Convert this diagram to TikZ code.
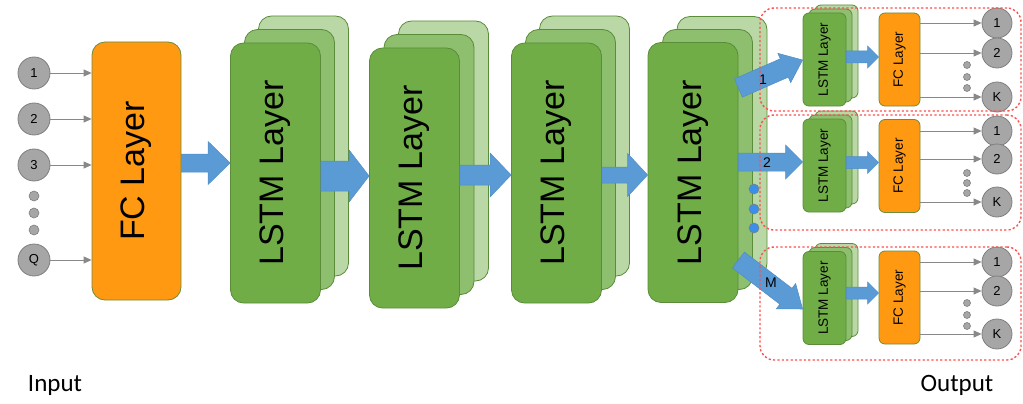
\documentclass[tikz,border=0pt]{standalone}
\usepackage{fontspec}
\setmainfont{Liberation Sans}
\newfontfamily\calibri{Carlito}
\usetikzlibrary{calc,arrows.meta}
\definecolor{gfront}{HTML}{70AD47}
\definecolor{gmid}{HTML}{8DBF6E}
\definecolor{gback}{HTML}{B9D8A5}
\definecolor{gborder}{HTML}{5A8C3A}
\definecolor{fcorange}{HTML}{FF9912}
\definecolor{fcborder}{HTML}{6E8C3A}
\definecolor{arrowblue}{HTML}{5B9BD5}
\definecolor{arrowblueb}{HTML}{4F8CC6}
\definecolor{circgray}{HTML}{A6A6A6}
\definecolor{circborder}{HTML}{7F7F7F}
\definecolor{linegray}{HTML}{888888}
\definecolor{boxred}{HTML}{FF4F4F}
\definecolor{dotblue}{HTML}{3A8FEA}
\tikzset{
  layerbox/.style={draw=gborder, line width=0.8pt, inner sep=0pt},
  frontbox/.style={layerbox, fill=gfront},
  midbox/.style={layerbox, fill=gmid},
  backbox/.style={layerbox, fill=gback},
  fcbox/.style={draw=fcborder, fill=fcorange, line width=0.8pt, inner sep=0pt},
  incirc/.style={circle, draw=circborder, fill=circgray, line width=0.8pt, minimum size=32pt, inner sep=0pt, font=\fontsize{13}{13}\selectfont},
  outcirc/.style={circle, draw=circborder, fill=circgray, line width=0.8pt, minimum size=30pt, inner sep=0pt, font=\fontsize{13}{13}\selectfont},
  smalldot/.style={circle, draw=circborder, fill=circgray, line width=0.6pt, minimum size=#1, inner sep=0pt},
  bluedot/.style={circle, draw=circborder, fill=dotblue, line width=0.6pt, minimum size=10pt, inner sep=0pt},
  grayarrow/.style={draw=linegray, line width=0.9pt, -{Triangle[length=8pt,width=7pt]}},
  redbox/.style={draw=boxred, line width=1.4pt, dash pattern=on 2.2pt off 2.2pt, rounded corners=14pt, minimum width=261pt, minimum height=#1, inner sep=0pt},
  arrlabel/.style={font=\fontsize{14}{14}\selectfont, inner sep=0pt},
  iolabel/.style={font=\calibri\fontsize{25}{25}\selectfont, inner sep=0pt},
}
% stack: name, cx, cy, w, h, dx, dy, radius, text
\newcommand\lstmstack[9]{%
  \node[backbox, rounded corners=#8, minimum width=#4, minimum height=#5] (#1b) at (#2+2*#6, #3-2*#7) {};
  \node[midbox, rounded corners=#8, minimum width=#4, minimum height=#5] (#1m) at (#2+#6, #3-#7) {};
  \node[frontbox, rounded corners=#8, minimum width=#4, minimum height=#5] (#1) at (#2, #3) {#9};
}
% block arrow: from, to, shaft half, head half, head length
\newcommand\blockarr[5]{%
  \coordinate (bah) at ($(#2)!#5!(#1)$);
  \filldraw[fill=arrowblue, draw=arrowblueb, line width=0.5pt, line join=miter]
    ($(#1)!#3!90:(#2)$) -- ($(bah)!#3!90:(#2)$) -- ($(bah)!#4!90:(#2)$) -- (#2)
    -- ($(bah)!#4!-90:(#2)$) -- ($(bah)!#3!-90:(#2)$) -- ($(#1)!#3!-90:(#2)$) -- cycle;
}
\newcommand\bigtxt[1]{\rotatebox{90}{\fontsize{34}{34}\selectfont #1}}
\newcommand\smalltxt[1]{\rotatebox{90}{\fontsize{13.5}{13.5}\selectfont #1}}
\begin{document}
\begin{tikzpicture}[x=1pt,y=-1pt]
\useasboundingbox (0,0) rectangle (1023,404);
% inputs
\node[incirc] (i1) at (34,73) {1};
\node[incirc] (i2) at (34,119) {2};
\node[incirc] (i3) at (34,165) {3};
\node[smalldot=10pt] (id1) at (34,196) {};
\node[smalldot=10pt] (id2) at (34,213) {};
\node[smalldot=10pt] (id3) at (34,230) {};
\node[incirc] (iq) at (34,260) {Q};
% FC layer
\node[fcbox, rounded corners=13pt, minimum width=89pt, minimum height=258pt] (fc) at (136.5,171) {\bigtxt{FC Layer}};
\foreach \c in {i1,i2,i3,iq} \draw[grayarrow] (\c) -- (fc.west |- \c);
% LSTM stacks
\lstmstack{l1}{275.5}{173}{90pt}{260pt}{14}{13.5}{13pt}{\bigtxt{LSTM Layer}}
\lstmstack{l2}{414.5}{178}{90pt}{260pt}{14.5}{13.5}{13pt}{\bigtxt{LSTM Layer}}
\lstmstack{l3}{556.5}{173}{90pt}{260pt}{14}{13.5}{13pt}{\bigtxt{LSTM Layer}}
\lstmstack{l4}{693}{172.5}{90pt}{260pt}{14.5}{13}{13pt}{\bigtxt{LSTM Layer}}
% big arrows
\coordinate (a0s) at ($(fc.east)+(0,-8)$);
\coordinate (a0e) at ($(l1.west)+(0,-10)$);
\blockarr{a0s}{a0e}{9pt}{21.5pt}{22pt}
\coordinate (a1s) at ($(l1.east)+(0,3)$);
\coordinate (a1e) at ($(l2.west)+(0,-2)$);
\blockarr{a1s}{a1e}{15pt}{26pt}{20pt}
\coordinate (a2s) at ($(l2.east)+(0,-3)$);
\coordinate (a2e) at ($(l3.west)+(0,2)$);
\blockarr{a2s}{a2e}{10pt}{22pt}{21pt}
\coordinate (a3s) at ($(l3.east)+(0,2)$);
\coordinate (a3e) at ($(l4.west)+(0,2.5)$);
\blockarr{a3s}{a3e}{8pt}{21.5pt}{20pt}
% output groups
\lstmstack{s1}{824.5}{59.5}{43pt}{93pt}{6}{4}{6pt}{\smalltxt{LSTM Layer}}
\lstmstack{s2}{824.5}{165.5}{43pt}{93pt}{6}{4}{6pt}{\smalltxt{LSTM Layer}}
\lstmstack{s3}{824.5}{298}{43pt}{93pt}{6}{4}{6pt}{\smalltxt{LSTM Layer}}
\node[fcbox, rounded corners=6pt, minimum width=41pt, minimum height=93pt] (f1) at (899.5,59.5) {\smalltxt{FC Layer}};
\node[fcbox, rounded corners=6pt, minimum width=41pt, minimum height=93pt] (f2) at (899.5,166) {\smalltxt{FC Layer}};
\node[fcbox, rounded corners=6pt, minimum width=41pt, minimum height=93pt] (f3) at (899.5,297.5) {\smalltxt{FC Layer}};
% diagonal / horizontal arrows from last LSTM
\coordinate (b1s) at ($(l4.east)+(0,-84.5)$);
\coordinate (b1e) at ($(s1.west)+(0,0.5)$);
\blockarr{b1s}{b1e}{10pt}{16pt}{20pt}
\coordinate (b2s) at ($(l4.east)+(0,-10.5)$);
\coordinate (b2e) at ($(s2.west)+(0,-3.5)$);
\blockarr{b2s}{b2e}{9pt}{17pt}{17pt}
\coordinate (b3s) at ($(l4.east)+(0,87.5)$);
\coordinate (b3e) at ($(s3.west)+(0,11)$);
\blockarr{b3s}{b3e}{10pt}{16pt}{21pt}
\node[arrlabel] (lb1) at (763,80) {1};
\node[arrlabel] (lb2) at (767,163) {2};
\node[arrlabel] (lbm) at (771,283) {M};
\node[bluedot] (bd1) at (754,189) {};
\node[bluedot] (bd2) at (754,209) {};
\node[bluedot] (bd3) at (754,228) {};
% small arrows LSTM -> FC
\coordinate (c1s) at ($(s1.east)+(0,-2.5)$);
\coordinate (c1e) at ($(f1.west)+(0,-2.5)$);
\blockarr{c1s}{c1e}{6pt}{11pt}{11pt}
\coordinate (c2s) at ($(s2.east)+(0,-3)$);
\coordinate (c2e) at ($(f2.west)+(0,-3.5)$);
\blockarr{c2s}{c2e}{6pt}{11pt}{11pt}
\coordinate (c3s) at ($(s3.east)+(0,-5)$);
\coordinate (c3e) at ($(f3.west)+(0,-4.5)$);
\blockarr{c3s}{c3e}{6pt}{11pt}{11pt}
% outputs
\node[outcirc] (o11) at (997,23) {1};
\node[outcirc] (o12) at (997,53) {2};
\node[outcirc] (o1k) at (997,97) {K};
\node[smalldot=7pt] (od11) at (967,65) {};
\node[smalldot=7pt] (od12) at (967,77) {};
\node[smalldot=7pt] (od13) at (967,88) {};
\node[outcirc] (o21) at (997,131) {1};
\node[outcirc] (o22) at (997,159) {2};
\node[outcirc] (o2k) at (997,202) {K};
\node[smalldot=7pt] (od21) at (967,173) {};
\node[smalldot=7pt] (od22) at (967,183) {};
\node[smalldot=7pt] (od23) at (967,193) {};
\node[outcirc] (o31) at (997,262) {1};
\node[outcirc] (o32) at (997,291) {2};
\node[outcirc] (o3k) at (997,334) {K};
\node[smalldot=7pt] (od31) at (967,303) {};
\node[smalldot=7pt] (od32) at (967,315) {};
\node[smalldot=7pt] (od33) at (967,326) {};
\foreach \c in {o11,o12,o1k} \draw[grayarrow] (f1.east |- \c) -- (\c);
\foreach \c in {o21,o22,o2k} \draw[grayarrow] (f2.east |- \c) -- (\c);
\foreach \c in {o31,o32,o3k} \draw[grayarrow] (f3.east |- \c) -- (\c);
% red dotted boxes
\node[redbox=103pt] (box1) at (890.5,59.5) {};
\node[redbox=115pt] (box2) at (890.5,172.5) {};
\node[redbox=113pt] (box3) at (890.5,303.5) {};
% captions
\node[iolabel] (inlab) at (55,385) {Input};
\node[iolabel] (outlab) at (957,385) {Output};
\end{tikzpicture}
\end{document}
